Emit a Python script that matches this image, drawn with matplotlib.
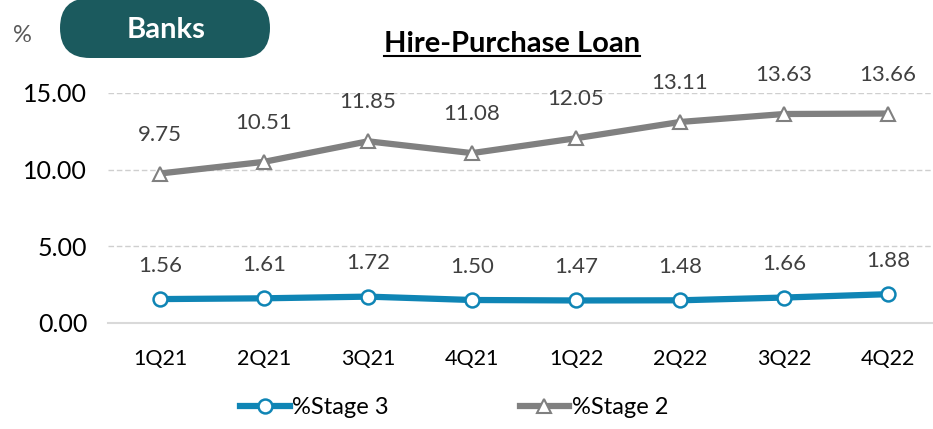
import matplotlib.pyplot as plt
from matplotlib.patches import FancyBboxPatch
from matplotlib.lines import Line2D
from matplotlib.transforms import IdentityTransform

plt.rcParams['font.family'] = ['Lato', 'DejaVu Sans']

# ---------------------------------------------------------------------------
quarters = ["1Q21", "2Q21", "3Q21", "4Q21", "1Q22", "2Q22", "3Q22", "4Q22"]
stage3 = [1.56, 1.61, 1.72, 1.50, 1.47, 1.48, 1.66, 1.88]
stage2 = [9.75, 10.51, 11.85, 11.08, 12.05, 13.11, 13.63, 13.66]

C_STAGE3 = "#0f85b5"
C_STAGE2 = "#808080"
C_BADGE = "#1b5a5e"
C_LABEL = "#404040"

# ---------------------------------------------------------------------------
fig = plt.figure(figsize=(9.33, 4.29), dpi=100)
ax = fig.add_axes([108 / 933, 1 - 323 / 429, 832 / 933, 230 / 429])

x = range(len(quarters))
ax.plot(x, stage3, color=C_STAGE3, lw=4.5, marker="o", ms=10, mfc="white",
        mec=C_STAGE3, mew=1.8, solid_capstyle="round", zorder=3, clip_on=False)
ax.plot(x, stage2, color=C_STAGE2, lw=4.5, marker="^", ms=10, mfc="white",
        mec=C_STAGE2, mew=1.5, solid_capstyle="round", zorder=3, clip_on=False)

for i, v in enumerate(stage3):
    ax.annotate(f"{v:.2f}", (i, v), xytext=(0, 24), textcoords="offset points",
                ha="center", va="center", fontsize=16, color=C_LABEL)
for i, v in enumerate(stage2):
    ax.annotate(f"{v:.2f}", (i, v), xytext=(0, 28), textcoords="offset points",
                ha="center", va="center", fontsize=16, color=C_LABEL,
                annotation_clip=False)

ax.set_xlim(-0.5, 7.5)
ax.set_ylim(0, 15)
ax.set_yticks([0, 5, 10, 15])
ax.set_yticklabels(["0.00", "5.00", "10.00", "15.00"])
ax.set_xticks(list(x))
ax.set_xticklabels(quarters)
ax.tick_params(axis="y", length=0, labelsize=18, pad=15)
ax.tick_params(axis="x", length=0, labelsize=15.5, pad=19)

for s in ["top", "right", "left"]:
    ax.spines[s].set_visible(False)
ax.spines["bottom"].set_color("#d9d9d9")
ax.spines["bottom"].set_linewidth(1.5)
for g in [5, 10, 15]:
    ax.axhline(g, color="#cfcfcf", lw=1, ls=(0, (4, 2)), zorder=1)

# legend
h3 = Line2D([], [], color=C_STAGE3, lw=4.5, marker="o", ms=10, mfc="white",
            mec=C_STAGE3, mew=1.8)
h2 = Line2D([], [], color=C_STAGE2, lw=4.5, marker="^", ms=10, mfc="white",
            mec=C_STAGE2, mew=1.5)
fig.legend([h3, h2], ["%Stage 3", "%Stage 2"], loc="center",
           bbox_to_anchor=(454 / 933, 1 - 408 / 429), ncol=2, frameon=False,
           fontsize=17, handlelength=2.1, handletextpad=0.1, columnspacing=5.55)

# title + badge
title = fig.text(512 / 933, 1 - 44 / 429, "Hire-Purchase Loan", ha="center",
                 va="center", fontsize=21, fontweight="bold")
fig.canvas.draw()
bb = title.get_window_extent().transformed(fig.transFigure.inverted())
fig.add_artist(Line2D([bb.x0, bb.x1], [bb.y0 + 0.002, bb.y0 + 0.002],
                      transform=fig.transFigure, color="black", lw=1.5))

# pill badge drawn in pixel coordinates (top edge runs off the figure)
badge = FancyBboxPatch((60, 429 - 58), 210, 60,
                       boxstyle="round,pad=0,rounding_size=30",
                       transform=IdentityTransform(), facecolor=C_BADGE,
                       edgecolor="none")
fig.add_artist(badge)
fig.text(166 / 933, 1 - 30 / 429, "Banks", ha="center", va="center",
         fontsize=21, fontweight="bold", color="white")
fig.text(22 / 933, 1 - 36 / 429, "%", ha="center", va="center",
         fontsize=17, color="#595959")

fig.savefig("out.png", dpi=100)
